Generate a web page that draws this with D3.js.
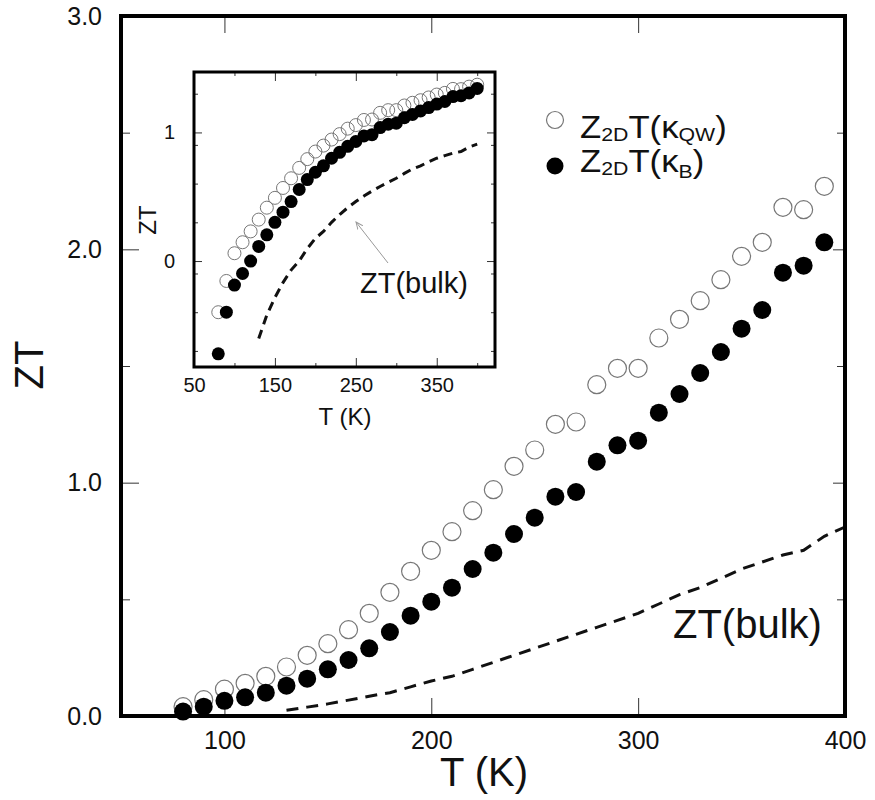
<!DOCTYPE html>
<meta charset="utf-8">
<script src="https://d3js.org/d3.v7.min.js"></script>
<style>
  body { margin: 0; background: #fff; }
  text { font-family: "Liberation Sans", Arial, sans-serif; fill: #111; }
</style>
<body>
<script>

// Temperatures (K) for the two ZT series
var temps = [80, 90, 100, 110, 120, 130, 140, 150, 160, 170, 180, 190, 200, 210, 220, 230,
             240, 250, 260, 270, 280, 290, 300, 310, 320, 330, 340, 350, 360, 370, 380, 390, 400];

// Z2D T (kappa_QW) -- open circles
var ztQW = [0.04, 0.07, 0.115, 0.14, 0.17, 0.21, 0.26, 0.31, 0.37, 0.44, 0.53, 0.62, 0.71, 0.79, 0.88, 0.97,
            1.07, 1.14, 1.25, 1.26, 1.42, 1.49, 1.49, 1.62, 1.70, 1.78, 1.87, 1.97, 2.03, 2.18, 2.17, 2.27, 2.35];

// Z2D T (kappa_B) -- filled circles
var ztB = [0.019, 0.04, 0.065, 0.08, 0.10, 0.13, 0.16, 0.20, 0.24, 0.29, 0.36, 0.43, 0.49, 0.55, 0.63, 0.70,
           0.78, 0.85, 0.94, 0.96, 1.09, 1.16, 1.18, 1.30, 1.38, 1.47, 1.56, 1.66, 1.74, 1.90, 1.93, 2.03, 2.20];

// ZT(bulk) dashed line
var bulkTemps = [130, 140, 150, 160, 170, 180, 190, 200, 210, 220, 230, 240, 250, 260,
                 270, 280, 290, 300, 310, 320, 330, 340, 350, 360, 370, 380, 390, 400];
var ztBulk = [0.025, 0.038, 0.052, 0.068, 0.085, 0.10, 0.125, 0.15, 0.17, 0.20, 0.23, 0.26, 0.29, 0.32,
              0.35, 0.38, 0.41, 0.44, 0.48, 0.52, 0.55, 0.59, 0.63, 0.66, 0.69, 0.71, 0.77, 0.81];

// tick values / labels
var mainXTicks = [100, 200, 300, 400];
var mainYTicks = [0, 1, 2, 3];
var mainYMinor = [0.5, 1.5, 2.5];
var insetXTicks = [50, 150, 250, 350];
var insetXMinor = [100, 200, 300, 400];
var insetYTicks = [0.1, 1];
var insetYTickLabels = ["0", "1"];
var insetYMinor = [0.02, 0.04, 0.08, 0.2, 0.4, 0.8, 2];

var mainMax = 390; // main panel shows points up to 390 K

var svg = d3.select("body").append("svg")
    .attr("width", 875)
    .attr("height", 800);

svg.append("rect").attr("width", 875).attr("height", 800).attr("fill", "#fff");

// ---------- main panel ----------
var x = d3.scaleLinear().domain([50, 400]).range([121, 845]);
var y = d3.scaleLinear().domain([0, 3]).range([716, 16]);

function styleAxis(g, fontSize) {
  g.select(".domain").remove();
  g.selectAll(".tick line").attr("stroke", "#333").attr("stroke-width", 1);
  g.selectAll(".tick text").attr("font-size", fontSize).attr("fill", "#111")
    .attr("font-family", "Liberation Sans, Arial, sans-serif");
}

svg.append("g")
    .attr("transform", "translate(0,716)")
    .call(d3.axisBottom(x).tickValues(mainXTicks).tickSize(-18).tickPadding(15).tickFormat(d3.format("d")))
    .call(styleAxis, 25);

svg.append("g")
    .attr("transform", "translate(0,16)")
    .call(d3.axisTop(x).tickValues(mainXTicks.slice(0, 3)).tickSize(-17).tickFormat(""))
    .call(styleAxis, 25);

svg.append("g")
    .attr("transform", "translate(121,0)")
    .call(d3.axisLeft(y).tickValues(mainYTicks).tickSize(-18).tickPadding(19).tickFormat(d3.format(".1f")))
    .call(styleAxis, 25);

svg.append("g")
    .attr("transform", "translate(121,0)")
    .call(d3.axisLeft(y).tickValues(mainYMinor).tickSize(-9).tickFormat(""))
    .call(styleAxis, 25);

svg.append("g")
    .attr("transform", "translate(845,0)")
    .call(d3.axisRight(y).tickValues(mainYTicks).tickSize(-12).tickFormat(""))
    .call(styleAxis, 25);

svg.append("g")
    .attr("transform", "translate(845,0)")
    .call(d3.axisRight(y).tickValues(mainYMinor).tickSize(-8).tickFormat(""))
    .call(styleAxis, 25);

// bulk dashed line
var bulkData = bulkTemps.map(function(t, i) { return {t: t, v: ztBulk[i]}; });
svg.append("path")
  .datum(bulkData)
  .attr("fill", "none")
  .attr("stroke", "#111")
  .attr("stroke-width", 3)
  .attr("stroke-dasharray", "12,8")
  .attr("d", d3.line().x(function(d) { return x(d.t); }).y(function(d) { return y(d.v); }));

var mainData = temps.map(function(t, i) { return {t: t, qw: ztQW[i], b: ztB[i]}; })
  .filter(function(d) { return d.t <= mainMax; });

svg.selectAll(".openMain")
    .data(mainData)
  .enter().append("circle")
    .attr("cx", function(d) { return x(d.t); })
    .attr("cy", function(d) { return y(d.qw); })
    .attr("r", 9)
    .attr("fill", "none")
    .attr("stroke", "#777")
    .attr("stroke-width", 1.2);

svg.selectAll(".fillMain")
    .data(mainData)
  .enter().append("circle")
    .attr("cx", function(d) { return x(d.t); })
    .attr("cy", function(d) { return y(d.b); })
    .attr("r", 9)
    .attr("fill", "#000");

// frame
svg.append("rect")
  .attr("x", 121).attr("y", 16).attr("width", 724).attr("height", 700)
  .attr("fill", "none").attr("stroke", "#000").attr("stroke-width", 4);

// axis titles
svg.append("text")
  .attr("x", 484).attr("y", 786)
  .attr("text-anchor", "middle")
  .attr("font-size", 40)
  .text("T (K)");

svg.append("text")
  .attr("transform", "translate(43,365) rotate(-90)")
  .attr("text-anchor", "middle")
  .attr("font-size", 40)
  .text("ZT");

svg.append("text")
  .attr("x", 673).attr("y", 638)
  .attr("font-size", 40)
  .text("ZT(bulk)");

// legend
svg.append("circle").attr("cx", 555).attr("cy", 120).attr("r", 8.5)
  .attr("fill", "none").attr("stroke", "#777").attr("stroke-width", 1.2);
svg.append("circle").attr("cx", 555).attr("cy", 166).attr("r", 8.5).attr("fill", "#000");

var leg1 = svg.append("text")
  .attr("transform", "translate(580,138) scale(1.12,1)")
  .attr("font-size", 31);
leg1.append("tspan").text("Z");
leg1.append("tspan").attr("font-size", 19).attr("dy", 3).text("2D");
leg1.append("tspan").attr("dy", -3).text("T(κ");
leg1.append("tspan").attr("font-size", 19).attr("dy", 3).text("QW");
leg1.append("tspan").attr("dy", -3).text(")");

var leg2 = svg.append("text")
  .attr("transform", "translate(580,172) scale(1.12,1)")
  .attr("font-size", 31);
leg2.append("tspan").text("Z");
leg2.append("tspan").attr("font-size", 19).attr("dy", 3).text("2D");
leg2.append("tspan").attr("dy", -3).text("T(κ");
leg2.append("tspan").attr("font-size", 19).attr("dy", 6).text("B");
leg2.append("tspan").attr("dy", -6).text(")");

// ---------- inset ----------
var xi = d3.scaleLinear().domain([50, 422]).range([194, 495]);
var yi = d3.scaleLog().domain([0.015, 2.95]).range([367, 72]);

svg.append("rect")
  .attr("x", 194).attr("y", 72).attr("width", 301).attr("height", 295)
  .attr("fill", "#fff");

svg.append("g")
    .attr("transform", "translate(0,367)")
    .call(d3.axisBottom(xi).tickValues(insetXTicks).tickSize(-9).tickPadding(11).tickFormat(d3.format("d")))
    .call(styleAxis, 20);
svg.append("g")
    .attr("transform", "translate(0,367)")
    .call(d3.axisBottom(xi).tickValues(insetXMinor).tickSize(-4).tickFormat(""))
    .call(styleAxis, 20);
svg.append("g")
    .attr("transform", "translate(0,72)")
    .call(d3.axisTop(xi).tickValues(insetXTicks.slice(1)).tickSize(-9).tickFormat(""))
    .call(styleAxis, 20);
svg.append("g")
    .attr("transform", "translate(0,72)")
    .call(d3.axisTop(xi).tickValues(insetXMinor).tickSize(-4).tickFormat(""))
    .call(styleAxis, 20);

svg.append("g")
    .attr("transform", "translate(194,0)")
    .call(d3.axisLeft(yi).tickValues(insetYTicks).tickSize(-8).tickPadding(19)
      .tickFormat(function(d, i) { return insetYTickLabels[i]; }))
    .call(styleAxis, 20);
svg.append("g")
    .attr("transform", "translate(194,0)")
    .call(d3.axisLeft(yi).tickValues(insetYMinor).tickSize(-4).tickFormat(""))
    .call(styleAxis, 20);
svg.append("g")
    .attr("transform", "translate(495,0)")
    .call(d3.axisRight(yi).tickValues(insetYTicks).tickSize(-8).tickFormat(""))
    .call(styleAxis, 20);
svg.append("g")
    .attr("transform", "translate(495,0)")
    .call(d3.axisRight(yi).tickValues(insetYMinor).tickSize(-4).tickFormat(""))
    .call(styleAxis, 20);

var insetData = temps.map(function(t, i) { return {t: t, qw: ztQW[i], b: ztB[i]}; });

svg.append("path")
  .datum(bulkData)
  .attr("fill", "none")
  .attr("stroke", "#111")
  .attr("stroke-width", 3)
  .attr("stroke-dasharray", "9,6")
  .attr("d", d3.line().x(function(d) { return xi(d.t); }).y(function(d) { return yi(d.v); }));

svg.selectAll(".openInset")
    .data(insetData)
  .enter().append("circle")
    .attr("cx", function(d) { return xi(d.t); })
    .attr("cy", function(d) { return yi(d.qw); })
    .attr("r", 6.5)
    .attr("fill", "none")
    .attr("stroke", "#777")
    .attr("stroke-width", 1);

svg.selectAll(".fillInset")
    .data(insetData)
  .enter().append("circle")
    .attr("cx", function(d) { return xi(d.t); })
    .attr("cy", function(d) { return yi(d.b); })
    .attr("r", 6.5)
    .attr("fill", "#000");

svg.append("rect")
  .attr("x", 194).attr("y", 72).attr("width", 301).attr("height", 295)
  .attr("fill", "none").attr("stroke", "#000").attr("stroke-width", 3);

// inset titles
svg.append("text")
  .attr("x", 345).attr("y", 425)
  .attr("text-anchor", "middle")
  .attr("font-size", 24)
  .text("T (K)");

svg.append("text")
  .attr("transform", "translate(156,220) rotate(-90)")
  .attr("text-anchor", "middle")
  .attr("font-size", 24)
  .text("ZT");

// ZT(bulk) annotation with arrow
svg.append("defs").append("marker")
    .attr("id", "arrow")
    .attr("viewBox", "0 0 10 10")
    .attr("refX", 9).attr("refY", 5)
    .attr("markerWidth", 8).attr("markerHeight", 8)
    .attr("orient", "auto")
  .append("path")
    .attr("d", "M0,1 L9,5 L0,9")
    .attr("fill", "none")
    .attr("stroke", "#999")
    .attr("stroke-width", 1.2);

svg.append("line")
  .attr("x1", 388).attr("y1", 263)
  .attr("x2", 356).attr("y2", 222)
  .attr("stroke", "#999")
  .attr("stroke-width", 1)
  .attr("marker-end", "url(#arrow)");

svg.append("text")
  .attr("x", 360).attr("y", 293)
  .attr("font-size", 29)
  .text("ZT(bulk)");

</script>
</body>
</html>
